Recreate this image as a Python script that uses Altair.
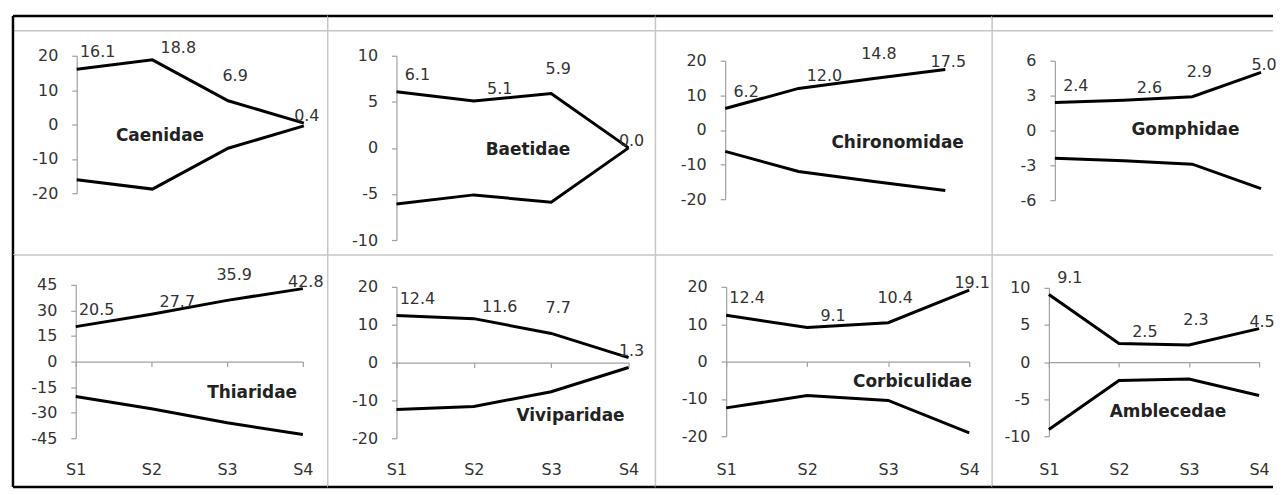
import altair as alt
import pandas as pd

# ---------------- data ----------------
samples = ["S1", "S2", "S3", "S4"]
families = ["Caenidae", "Baetidae", "Chironomidae", "Gomphidae",
            "Thiaridae", "Viviparidae", "Corbiculidae", "Amblecedae"]
caenidae = [16.1, 18.8, 6.9, 0.4]
baetidae = [6.1, 5.1, 5.9, 0.0]
chironomidae = [6.2, 12.0, 14.8, 17.5]
gomphidae = [2.4, 2.6, 2.9, 5.0]
thiaridae = [20.5, 27.7, 35.9, 42.8]
viviparidae = [12.4, 11.6, 7.7, 1.3]
corbiculidae = [12.4, 9.1, 10.4, 19.1]
amblecedae = [9.1, 2.5, 2.3, 4.5]
series = [caenidae, baetidae, chironomidae, gomphidae,
          thiaridae, viviparidae, corbiculidae, amblecedae]

y_ticks = [
    [-20, -10, 0, 10, 20],
    [-10, -5, 0, 5, 10],
    [-20, -10, 0, 10, 20],
    [-6, -3, 0, 3, 6],
    [-45, -30, -15, 0, 15, 30, 45],
    [-20, -10, 0, 10, 20],
    [-20, -10, 0, 10, 20],
    [-10, -5, 0, 5, 10],
]

# family-name annotation anchors (data units: sample index, value)
name_x = [2.1, 2.7, 3.35, 2.9, 3.33, 3.25, 3.3, 2.7]
name_y = [-3.5, -0.2, -3.8, 0.0, -18.5, -14.2, -5.6, -6.8]

# ---------------- layout (pixels) ----------------
col_w = [316, 329, 338, 282]
row_h = [240, 233]
x_rng = [[64, 292], [69, 302], [70, 291], [63, 270],
         [63, 291], [69, 302], [71, 315], [57, 268]]
y_rng = [[178, 40], [225, 40], [184, 45], [185, 45],
         [184, 30], [184, 32], [182, 32], [182, 33]]
xlab_y = 215
lab_dx = [21, 26, 7, 3]
lab_dy = [-17, -12, -25, -7]

FONT = "DejaVu Sans"
TXT = "#333333"
AXC = "#a0a0a0"
BORDER = "#c6c6c6"


def panel(i):
    row, col = divmod(i, 4)
    W, H = col_w[col], row_h[row]
    vals = series[i]
    ticks = y_ticks[i]
    df = pd.DataFrame({
        "idx": [1, 2, 3, 4] * 2,
        "side": ["pos"] * 4 + ["neg"] * 4,
        "v": vals + [-v for v in vals],
        "val": vals * 2,
    })
    ybot, ytop = y_rng[i]
    y0 = (ybot + ytop) / 2.0

    if row == 1:
        xaxis = alt.Axis(values=[1, 2, 3, 4], labelExpr="'S' + datum.value",
                         orient="bottom", offset=-(H - y0), tickSize=5,
                         labelPadding=xlab_y - y0 - 5, labelBaseline="middle",
                         labelFlush=False, labelAlign="center",
                         title=None, grid=False, labelFontSize=16)
    else:
        xaxis = None
    xenc = alt.X("idx:Q", scale=alt.Scale(domain=[1, 4], range=x_rng[i], nice=False, zero=False),
                 axis=xaxis)
    yenc = alt.Y("v:Q", scale=alt.Scale(domain=[ticks[0], ticks[-1]], range=[ybot, ytop],
                                         nice=False, zero=False),
                 axis=alt.Axis(values=ticks, offset=-x_rng[i][0], tickSize=5,
                               labelPadding=14, title=None, grid=False, labelFlush=False,
                               labelBaseline="middle",
                               labelExpr="'' + datum.value"))

    one = pd.DataFrame({"a": [0]})
    layers = []
    # panel borders (light grey)
    layers.append(alt.Chart(one).mark_rule(color=BORDER, strokeWidth=1.5)
                  .encode(x=alt.value(0), y=alt.value(0), y2=alt.value(H)))
    layers.append(alt.Chart(one).mark_rule(color=BORDER, strokeWidth=1.5)
                  .encode(x=alt.value(0), x2=alt.value(W), y=alt.value(0)))
    if row == 0:
        layers.append(alt.Chart(one).mark_rule(color=BORDER, strokeWidth=1.5)
                      .encode(x=alt.value(0), x2=alt.value(W), y=alt.value(15)))

    base = alt.Chart(df)
    layers.append(base.mark_line(color="black", strokeWidth=3)
                  .encode(x=xenc, y=yenc, detail="side:N"))
    for k in range(4):
        layers.append(
            base.transform_filter(f"datum.side == 'pos' && datum.idx == {k + 1}")
            .mark_text(dx=lab_dx[k], dy=lab_dy[k], font=FONT, fontSize=16, color=TXT,
                       align="center", baseline="middle")
            .encode(x=xenc, y=yenc, text=alt.Text("val:Q", format=".1f"))
        )
    ndf = pd.DataFrame({"idx": [name_x[i]], "v": [name_y[i]], "t": [families[i]]})
    layers.append(
        alt.Chart(ndf).mark_text(font=FONT, fontSize=17, fontWeight="bold", color="#222222",
                                 align="center", baseline="middle")
        .encode(x=xenc, y=yenc, text="t:N")
    )
    # outer thick frame
    if row == 0:
        layers.append(alt.Chart(one).mark_rule(color="black", strokeWidth=2.5)
                      .encode(x=alt.value(0), x2=alt.value(W), y=alt.value(0)))
    else:
        layers.append(alt.Chart(one).mark_rule(color="black", strokeWidth=2.5)
                      .encode(x=alt.value(0), x2=alt.value(W), y=alt.value(H)))
    if col == 0:
        layers.append(alt.Chart(one).mark_rule(color="black", strokeWidth=2.5)
                      .encode(x=alt.value(0), y=alt.value(0), y2=alt.value(H)))
    return alt.layer(*layers).properties(width=W, height=H)


chart = (
    alt.concat(*[panel(i) for i in range(8)], columns=4, spacing=0, bounds="flush")
    .properties(padding={"left": 3, "top": 5, "right": 0, "bottom": 0})
    .configure_view(stroke=None)
    .configure_axis(labelFont=FONT, labelFontSize=16, labelColor=TXT,
                    domainColor=AXC, tickColor=AXC, domainWidth=1.2, tickWidth=1.2)
)

chart.save("out.html", embed_options={"renderer": "svg", "actions": False})
